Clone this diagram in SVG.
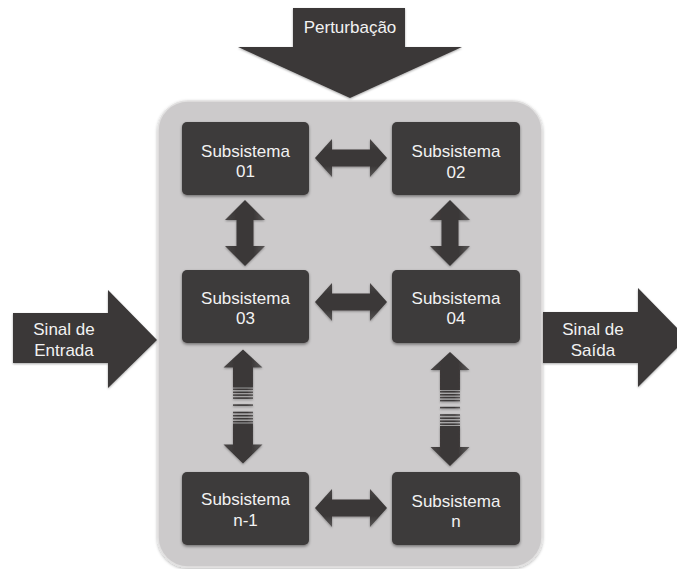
<svg xmlns="http://www.w3.org/2000/svg" width="677" height="569" viewBox="0 0 677 569">
<defs>
<style>
.box{fill:#3e3b3b;filter:url(#sh)}
.arr{fill:url(#gv);filter:url(#sh2)}
.arrh{fill:url(#gh);filter:url(#sh2)}
.big{fill:#3b3838;filter:url(#sh2)}
.t{font-family:"Liberation Sans",Arial,sans-serif;font-size:17px;fill:#f2f2f2;text-anchor:middle}
.stripe{fill:#3b3838}
</style>
<filter id="sh" x="-10%" y="-10%" width="120%" height="130%">
<feDropShadow dx="0" dy="1.5" stdDeviation="1.5" flood-color="#000" flood-opacity="0.45"/>
</filter>
<filter id="sh2" x="-10%" y="-10%" width="120%" height="130%">
<feDropShadow dx="0" dy="1" stdDeviation="1" flood-color="#000" flood-opacity="0.35"/>
</filter>
<filter id="psh" x="-5%" y="-5%" width="110%" height="110%">
<feDropShadow dx="0" dy="1" stdDeviation="1.5" flood-color="#000" flood-opacity="0.3"/>
</filter>
<linearGradient id="gv" x1="0" y1="0" x2="1" y2="0">
<stop offset="0" stop-color="#4a4747"/>
<stop offset="0.3" stop-color="#3a3737"/>
<stop offset="0.7" stop-color="#3a3737"/>
<stop offset="1" stop-color="#5a5757"/>
</linearGradient>
<linearGradient id="gh" x1="0" y1="0" x2="0" y2="1">
<stop offset="0" stop-color="#4a4747"/>
<stop offset="0.3" stop-color="#3a3737"/>
<stop offset="0.7" stop-color="#3a3737"/>
<stop offset="1" stop-color="#5a5757"/>
</linearGradient>
<path id="hdbl" d="M-36,0 L-19,-19 L-19,-8.5 L19,-8.5 L19,-19 L36,0 L19,19 L19,8.5 L-19,8.5 L-19,19 Z"/>
<path id="vdbl" d="M0,-33 L20,-13 L8.5,-13 L8.5,13 L20,13 L0,33 L-20,13 L-8.5,13 L-8.5,-13 L-20,-13 Z"/>
<g id="vdash">
<path d="M0,-57 L19.5,-39 L10,-39 L10,-19 L-10,-19 L-10,-39 L-19.5,-39 Z"/>
<path d="M0,57 L19.5,38 L10,38 L10,17 L-10,17 L-10,38 L-19.5,38 Z"/>
<rect x="-10" y="-18" width="20" height="1.6"/>
<rect x="-10" y="-15" width="20" height="1.6"/>
<rect x="-10" y="-12.2" width="20" height="1.6"/>
<rect x="-10" y="-9.2" width="20" height="1.6"/>
<rect x="-10" y="-2.2" width="20" height="1.6"/>
<rect x="-10" y="5.2" width="20" height="1.6"/>
<rect x="-10" y="8.4" width="20" height="1.6"/>
<rect x="-10" y="11.4" width="20" height="1.6"/>
<rect x="-10" y="14.4" width="20" height="1.6"/>
</g>
</defs>
<rect width="677" height="569" fill="#ffffff"/>

<g id="panel">
<rect x="158" y="101" width="384" height="466" rx="30" ry="30" fill="#cccacb" stroke="#e2e1e1" stroke-width="1.5" filter="url(#psh)"/>
</g>

<g id="perturbacao">
<path class="big" d="M293,8 L405,8 L405,47 L462,47 L350,98 L238,47 L293,47 Z"/>
<text class="t" x="350" y="33">Perturbação</text>
</g>

<g id="entrada">
<path class="big" d="M13,313 L108,313 L108,290 L157,340 L108,388 L108,363 L13,363 Z"/>
<text class="t" x="64" y="335">Sinal de</text>
<text class="t" x="64" y="356">Entrada</text>
</g>

<g id="saida">
<path class="big" d="M543,312 L638,312 L638,288 L687,338 L638,387 L638,363 L543,363 Z"/>
<text class="t" x="593" y="335">Sinal de</text>
<text class="t" x="593" y="356">Saída</text>
</g>

<g id="s01">
<rect class="box" x="182" y="122" width="127" height="73" rx="5"/>
<text class="t" x="245.5" y="157">Subsistema</text>
<text class="t" x="245.5" y="177">01</text>
</g>
<g id="s02">
<rect class="box" x="392" y="122" width="128" height="73" rx="5"/>
<text class="t" x="456" y="157">Subsistema</text>
<text class="t" x="456" y="178">02</text>
</g>
<g id="s03">
<rect class="box" x="182" y="270" width="127" height="73" rx="5"/>
<text class="t" x="245.5" y="304">Subsistema</text>
<text class="t" x="245.5" y="324">03</text>
</g>
<g id="s04">
<rect class="box" x="392" y="270" width="128" height="73" rx="5"/>
<text class="t" x="456" y="304">Subsistema</text>
<text class="t" x="456" y="324">04</text>
</g>
<g id="sn1">
<rect class="box" x="182" y="472" width="127" height="73" rx="5"/>
<text class="t" x="245.5" y="505">Subsistema</text>
<text class="t" x="245.5" y="526">n-1</text>
</g>
<g id="sn">
<rect class="box" x="392" y="472" width="128" height="73" rx="5"/>
<text class="t" x="456" y="507">Subsistema</text>
<text class="t" x="456" y="527">n</text>
</g>

<g id="connectors">
<use href="#hdbl" class="arrh" transform="translate(351,158)"/>
<use href="#hdbl" class="arrh" transform="translate(351,302)"/>
<use href="#hdbl" class="arrh" transform="translate(351,508)"/>
<use href="#vdbl" class="arr" transform="translate(245,233)"/>
<use href="#vdbl" class="arr" transform="translate(450,233)"/>
<use href="#vdash" class="arr" transform="translate(243,406.5)"/>
<use href="#vdash" class="arr" transform="translate(450,409)"/>
</g>
</svg>
